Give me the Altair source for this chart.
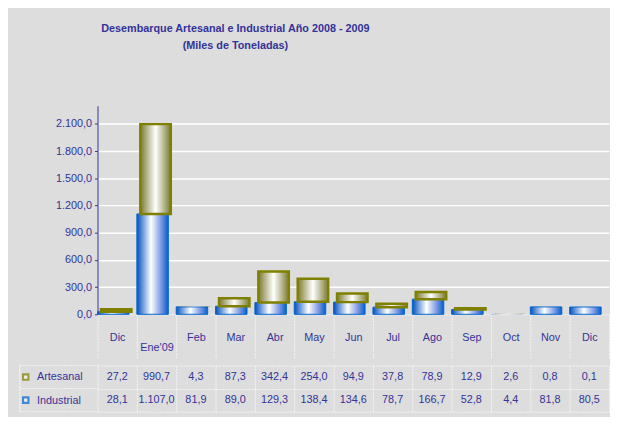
import json
import altair as alt
import pandas as pd

# ---- data ----
months = ["Dic", "Ene'09", "Feb", "Mar", "Abr", "May", "Jun", "Jul", "Ago", "Sep", "Oct", "Nov", "Dic"]
artesanal = [27.2, 990.7, 4.3, 87.3, 342.4, 254.0, 94.9, 37.8, 78.9, 12.9, 2.6, 0.8, 0.1]
industrial = [28.1, 1107.0, 81.9, 89.0, 129.3, 138.4, 134.6, 78.7, 166.7, 52.8, 4.4, 81.8, 80.5]
series = ["Artesanal", "Industrial"]
y_ticks = [0, 300, 600, 900, 1200, 1500, 1800, 2100]
title_lines = ["Desembarque Artesanal e Industrial   Año 2008 - 2009", "(Miles de Toneladas)"]

TXT = "#333399"
BG = "#DDDDDD"
OLIVE = "#808000"
BLUE = "#0066CC"
DOT = "#F4F4F4"
FONT = "Liberation Sans"


def es(v):
    s = f"{v:,.1f}"
    return s.replace(",", "X").replace(".", ",").replace("X", ".")


idx = list(range(len(months)))
bars = pd.DataFrame({"i": idx, "ind": industrial, "art": artesanal})
bars["top"] = bars["ind"] + bars["art"]

table = pd.DataFrame({
    "i": idx + idx,
    "serie": ["Artesanal"] * len(idx) + ["Industrial"] * len(idx),
    "txt": [es(v) for v in artesanal] + [es(v) for v in industrial],
})
rows = pd.DataFrame({"serie": series})

W = 520
xs = alt.Scale(domain=idx, paddingInner=0, paddingOuter=0)
ys = alt.Scale(domain=[0, 2300], nice=False)

month_expr = json.dumps(months) + "[datum.value]"
es_expr = ("replace(replace(replace(format(datum.value, ',.1f'), ',', '_'), '.', ','), '_', '.')")

blue_grad = alt.Gradient(
    gradient="linear", x1=0, x2=1, y1=0, y2=0,
    stops=[alt.GradientStop(color="#0050C0", offset=0),
           alt.GradientStop(color="#FFFFFF", offset=0.45),
           alt.GradientStop(color="#7090E0", offset=0.8),
           alt.GradientStop(color="#0060CC", offset=1)])
olive_grad = alt.Gradient(
    gradient="linear", x1=0, x2=1, y1=0, y2=0,
    stops=[alt.GradientStop(color="#7A7A30", offset=0),
           alt.GradientStop(color="#FFFFFF", offset=0.5),
           alt.GradientStop(color="#7A7A30", offset=1)])

x_axis_top = alt.Axis(
    title=None, labelExpr=month_expr, labelAngle=0, labelColor=TXT, labelFont=FONT,
    labelFontSize=11, labelBaseline="top",
    labelPadding={"condition": {"test": "datum.value == 1", "value": -17}, "value": -27},
    tickBand="extent", tickSize=45, tickColor=DOT, tickDash=[2, 1], tickWidth=1,
    domainColor=DOT, domainDash=[2, 1], domainWidth=1, grid=False)

y_axis = alt.Axis(
    title=None, values=y_ticks, tickCount=len(y_ticks), labelExpr=es_expr, labelColor=TXT,
    labelFont=FONT, labelFontSize=11, labelPadding=3, tickSize=3, tickColor=TXT,
    domainColor=TXT, labelOverlap=False,
    grid=True, gridColor="white", gridWidth=1.5,
    gridOpacity={"condition": {"test": "datum.value == 0", "value": 0}, "value": 1})

base = alt.Chart(bars).encode(x=alt.X("i:O", scale=xs, axis=x_axis_top))
ind_bar = base.mark_bar(width=32, xOffset=-4, fill=blue_grad, stroke=BLUE,
                        strokeWidth=1).encode(
    y=alt.Y("ind:Q", scale=ys, axis=y_axis),
    strokeOpacity=alt.condition("datum.ind < 5", alt.value(0), alt.value(1)))
art_bar = base.mark_bar(width=31, xOffset=-1, fill=olive_grad, stroke=OLIVE,
                        strokeWidth=2.5).encode(
    y=alt.Y("ind:Q", scale=ys), y2="top:Q",
    strokeOpacity=alt.condition("datum.art < 5", alt.value(0), alt.value(1)))
bar_chart = alt.layer(ind_bar, art_bar).properties(width=W, height=212)

# ---- data table ----
x_tab = alt.X("i:O", scale=xs, axis=alt.Axis(
    title=None, labels=False, ticks=False, domain=False, grid=True, tickBand="extent",
    gridColor=DOT, gridDash=[2, 1], gridWidth=1))
y_scale_tab = alt.Scale(domain=series, paddingInner=0, paddingOuter=0)
y_tab = alt.Y("serie:N", scale=y_scale_tab, axis=alt.Axis(
    title=None, labelAlign="left", labelPadding=62, ticks=False, tickSize=0, domain=False,
    labelColor=TXT, labelFont=FONT, labelFontSize=11, grid=True, tickBand="extent",
    gridColor=DOT, gridDash=[2, 1], gridWidth=1))

values = alt.Chart(table).mark_text(color=TXT, font=FONT, fontSize=11).encode(
    x=x_tab, y=y_tab, text="txt:N")
left_rules = alt.Chart(rows).mark_rule(color=DOT, strokeDash=[2, 1]).encode(
    y=alt.Y("serie:N", scale=y_scale_tab, bandPosition=0),
    x=alt.value(-79), x2=alt.value(0))
bottom_rule = alt.Chart(rows).transform_filter("datum.serie == 'Industrial'").mark_rule(
    color=DOT, strokeDash=[2, 1]).encode(
    y=alt.Y("serie:N", scale=y_scale_tab, bandPosition=1),
    x=alt.value(-79), x2=alt.value(0))
left_vert = alt.Chart(rows).mark_rule(color=DOT, strokeDash=[2, 1]).encode(
    x=alt.value(-79), y=alt.value(0), y2=alt.value(48))
squares = alt.Chart(rows).mark_point(shape="square", size=30, filled=False,
                                     strokeWidth=2.2).encode(
    y=alt.Y("serie:N", scale=y_scale_tab),
    x=alt.value(-73),
    color=alt.Color("serie:N", scale=alt.Scale(domain=series, range=[OLIVE, BLUE]),
                    legend=None),
    fill=alt.value("#F4F4F4"))
table_chart = alt.layer(left_vert, left_rules, bottom_rule, values, squares).properties(
    width=W, height=47)

chart = alt.vconcat(bar_chart, table_chart, spacing=0).properties(
    title=alt.TitleParams(text=title_lines, color=TXT, font=FONT, fontSize=11,
                          fontWeight="bold", anchor="middle", dx=-80, offset=56,
                          lineHeight=17),
    padding={"left": 10, "top": 12, "right": 0, "bottom": 0},
    background=BG,
).configure_view(stroke=None)

chart.save("out.html", embed_options={"renderer": "svg", "actions": False})
